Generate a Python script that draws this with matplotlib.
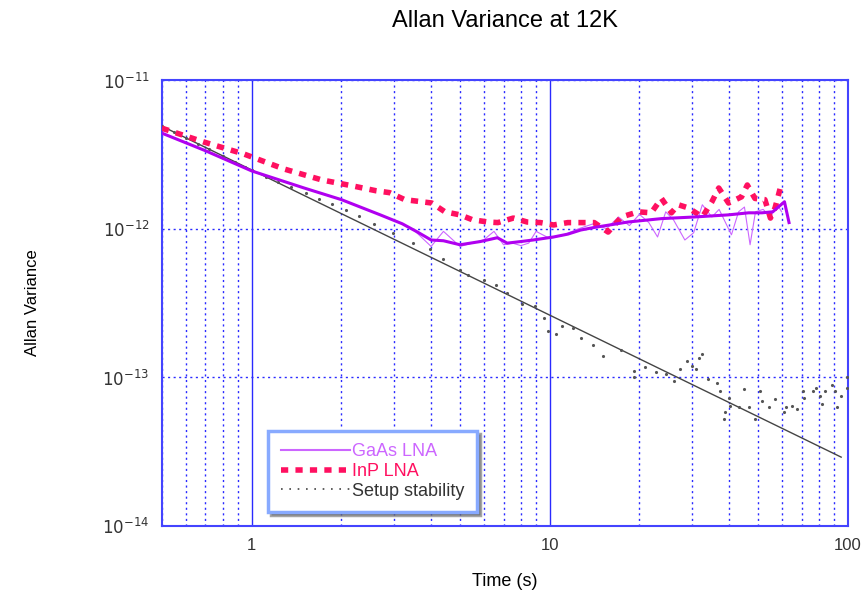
import matplotlib
matplotlib.use("Agg")
import matplotlib.pyplot as plt
from matplotlib.lines import Line2D

plt.rcParams['font.family'] = ['Liberation Sans', 'DejaVu Sans']

# GaAs LNA, smoothed (thick) trace
gaas_x = [0.5, 0.7, 1.0, 1.5, 2.0, 2.7, 3.2, 3.6, 4.0, 4.4, 5.0, 5.85, 6.67, 7.2, 8.0,
          8.8, 10.3, 11.5, 12.7, 14.1, 18.3, 23.7, 30.6, 39.8, 46.5, 51.5, 56.0, 61.3, 63.5]
gaas_y = [4.4e-12, 3.35e-12, 2.45e-12, 1.88e-12, 1.57e-12, 1.24e-12, 1.08e-12, 0.95e-12,
          0.84e-12, 0.83e-12, 0.78e-12, 0.82e-12, 0.87e-12, 0.80e-12, 0.82e-12, 0.84e-12,
          0.88e-12, 0.92e-12, 0.98e-12, 1.02e-12, 1.11e-12, 1.17e-12, 1.20e-12, 1.24e-12,
          1.28e-12, 1.28e-12, 1.30e-12, 1.52e-12, 1.10e-12]

# GaAs LNA, raw (thin) trace
gaas_raw_x = [3.0, 3.5, 4.0, 4.4, 5.0, 5.5, 6.0, 6.5, 7.0, 7.5, 8.0, 8.5, 9.0, 10.0, 11.0,
              12.5, 14.0, 15.5, 17.0, 18.5, 20.0, 21.5, 23.0, 24.5, 26.0, 28.4, 30.4, 32.5,
              35.0, 37.0, 40.7, 43.0, 45.0, 47.0, 49.0, 52.0, 55.0, 58.0, 60.0]
gaas_raw_y = [1.15e-12, 0.98e-12, 0.76e-12, 0.96e-12, 0.76e-12, 0.80e-12, 0.84e-12, 0.96e-12,
              0.78e-12, 0.80e-12, 0.77e-12, 0.80e-12, 0.96e-12, 0.86e-12, 0.90e-12, 1.00e-12,
              1.08e-12, 1.00e-12, 1.20e-12, 1.05e-12, 1.25e-12, 1.10e-12, 0.88e-12, 1.30e-12,
              1.15e-12, 0.84e-12, 0.94e-12, 1.45e-12, 1.20e-12, 1.35e-12, 0.91e-12, 1.30e-12,
              1.40e-12, 0.78e-12, 1.30e-12, 1.35e-12, 1.20e-12, 1.45e-12, 1.30e-12]

# InP LNA
inp_x = [0.5, 0.69, 0.94, 1.28, 1.72, 2.16, 2.62, 2.9, 3.26, 4.02, 4.45, 5.0, 5.5, 6.2, 6.7,
         7.55, 8.4, 9.3, 10.3, 11.5, 12.7, 14.1, 15.7, 17.4, 19.8, 21.9, 23.7, 25.6, 27.0,
         29.2, 32.5, 35.0, 36.9, 39.8, 44.0, 46.0, 48.8, 52.7, 55.0, 57.0, 60.0]
inp_y = [4.75e-12, 3.84e-12, 3.19e-12, 2.53e-12, 2.13e-12, 1.95e-12, 1.80e-12, 1.75e-12,
         1.57e-12, 1.49e-12, 1.30e-12, 1.24e-12, 1.15e-12, 1.11e-12, 1.10e-12, 1.18e-12,
         1.11e-12, 1.10e-12, 1.06e-12, 1.10e-12, 1.10e-12, 1.10e-12, 0.95e-12, 1.20e-12,
         1.30e-12, 1.28e-12, 1.60e-12, 1.28e-12, 1.45e-12, 1.38e-12, 1.20e-12, 1.52e-12,
         1.88e-12, 1.49e-12, 1.64e-12, 1.97e-12, 1.60e-12, 1.57e-12, 1.18e-12, 1.38e-12,
         2.04e-12]

# Setup stability measurements
setup_x = [0.5, 0.55, 0.6, 0.66, 0.72, 0.8, 0.88, 0.95, 1.0,
           1.115, 1.23, 1.36, 1.52, 1.68, 1.86, 2.08, 2.3, 2.58,
           2.97, 3.47, 3.96, 4.38, 5.0, 5.3, 6.0, 6.58, 7.2, 8.1, 8.95, 9.55, 9.85, 10.5,
           11.0, 12.0, 12.7, 14.0, 15.1,
           17.4, 19.2, 19.2, 20.8, 22.7, 24.6, 26.2, 27.4, 28.8, 29.9, 31.0, 31.6, 32.3,
           34.0, 36.3, 37.2, 38.3, 38.6, 39.8, 40.2, 43.2, 44.9, 46.6, 48.8, 50.7, 51.5,
           54.4, 57.0, 61.3, 61.8, 65.0, 67.6, 70.5, 71.5, 76.2, 78.0, 80.9, 82.0, 84.0,
           88.8, 90.9, 92.0, 95.0, 99.0, 99.5]
setup_y = [4.9e-12, 4.47e-12, 4.1e-12, 3.74e-12, 3.43e-12, 3.1e-12, 2.82e-12, 2.62e-12, 2.49e-12,
           2.23e-12, 2.07e-12, 1.91e-12, 1.75e-12, 1.59e-12, 1.47e-12, 1.34e-12, 1.21e-12, 1.07e-12,
           9.4e-13, 8.05e-13, 7.3e-13, 6.3e-13, 5.3e-13, 4.9e-13, 4.55e-13, 4.2e-13, 3.7e-13,
           3.1e-13, 3.0e-13, 2.5e-13, 2.04e-13, 1.95e-13, 2.2e-13, 2.15e-13, 1.85e-13, 1.66e-13,
           1.38e-13,
           1.52e-13, 1.0e-13, 1.1e-13, 1.17e-13, 1.08e-13, 1.05e-13, 9.4e-14, 1.13e-13, 1.28e-13,
           1.19e-13, 1.13e-13, 1.35e-13, 1.43e-13, 9.7e-14, 9.2e-14, 8.05e-14, 5.2e-14, 5.8e-14,
           7.3e-14, 6.4e-14, 6.3e-14, 8.3e-14, 6.3e-14, 5.2e-14, 8.05e-14, 6.9e-14, 6.3e-14,
           7.1e-14, 5.8e-14, 6.3e-14, 6.4e-14, 6.1e-14, 8.05e-14, 7.3e-14, 8.05e-14, 8.5e-14,
           7.5e-14, 6.6e-14, 8.05e-14, 8.9e-14, 8.05e-14, 6.3e-14, 7.5e-14, 8.5e-14, 1.0e-13]

# 1/tau reference line
fit_x = [0.5, 95]
fit_y = [4.9e-12, 2.9e-14]

purple = '#b000f0'
purple_thin = '#cc66ff'
red = '#ff1060'
grid_blue = '#2a2aff'

fig = plt.figure(figsize=(8.66, 6.03), dpi=100)
ax = fig.add_axes([0.187, 0.128, 0.792, 0.739])

ax.plot(fit_x, fit_y, color='#444444', lw=1.0, zorder=3)
ax.plot(setup_x, setup_y, ls='none', marker='.', ms=2.5, color='#555555', zorder=4)
ax.plot(gaas_raw_x, gaas_raw_y, color=purple_thin, lw=0.8, zorder=5)
ax.plot(inp_x, inp_y, color=red, lw=4, ls=(0, (1.3, 1.3)), zorder=5)
ax.plot(gaas_x, gaas_y, color=purple, lw=2.2, zorder=6)

ax.set_xscale('log')
ax.set_yscale('log')
ax.set_xlim(0.5, 100)
ax.set_ylim(1e-14, 1e-11)

ax.xaxis.grid(True, which='major', color=grid_blue, ls='-', lw=1.0)
ax.xaxis.grid(True, which='minor', color=grid_blue, ls=(0, (1.5, 2.5)), lw=1.0)
ax.yaxis.grid(True, which='major', color=grid_blue, ls=(0, (1.5, 2.5)), lw=1.0)
ax.yaxis.grid(False, which='minor')
ax.set_axisbelow(True)

for s in ax.spines.values():
    s.set_color('#4444ff')
    s.set_linewidth(1.5)

ax.set_xticks([1, 10, 100])
ax.set_xticklabels(['1', '10', '100'])
ax.set_yticks([1e-14, 1e-13, 1e-12, 1e-11])
ax.set_yticklabels([r'$10^{-14}$', r'$10^{-13}$', r'$10^{-12}$', r'$10^{-11}$'])
ax.tick_params(which='both', length=0, labelsize=12, colors='#333333', pad=9)
ax.tick_params(axis='y', which='minor', left=False)

ax.set_title('Allan Variance at 12K', fontsize=17, pad=38)
ax.set_xlabel('Time (s)', fontsize=13, labelpad=14)
ax.set_ylabel('Allan Variance', fontsize=12, labelpad=45)

handles = [
    Line2D([], [], color=purple_thin, lw=1.5),
    Line2D([], [], color=red, lw=4, ls=(0, (1.3, 1.3))),
    Line2D([], [], color='#444444', lw=1.2, ls=(0, (1, 4))),
]
leg = ax.legend(handles, ['GaAs LNA', 'InP LNA', 'Setup stability'],
                loc='lower left', bbox_to_anchor=(0.155, 0.03), borderaxespad=0,
                fontsize=13, frameon=True, fancybox=False, shadow=True,
                handlelength=3.8, borderpad=0.7, labelspacing=0.15, handletextpad=0.15)
leg.get_frame().set_edgecolor('#88aaff')
leg.get_frame().set_linewidth(2.5)
for txt, c in zip(leg.get_texts(), [purple_thin, red, '#333333']):
    txt.set_color(c)

fig.savefig('out.png', dpi=100)
